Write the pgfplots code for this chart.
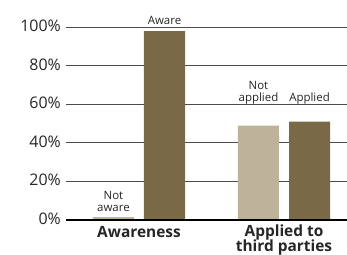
\documentclass[border=0pt]{standalone}
\usepackage{pgfplots}
\pgfplotsset{compat=1.18}
\usepackage{fontspec}
\setmainfont{Open Sans}
\definecolor{lightbar}{HTML}{BDB29A}
\definecolor{darkbar}{HTML}{7A6946}
\begin{document}
\begin{tikzpicture}
\useasboundingbox (-66bp,-35bp) rectangle (281bp,220bp);
\begin{axis}[
  at={(0,0)}, anchor=south west,
  scale only axis, width=281bp, height=192.7bp,
  xmin=-0.5034, xmax=1.4345, ymin=0, ymax=100,
  clip=false,
  axis line style={draw=none},
  xtick=\empty,
  ytick={0,20,40,60,80,100},
  yticklabels={0\%,20\%,40\%,60\%,80\%,100\%},
  major tick length=0pt,
  yticklabel style={font=\fontsize{16}{18}\selectfont, text=black!85, anchor=east, inner sep=0pt, xshift=-5bp, yshift=1.5bp},
  ymajorgrids,
  grid style={draw=black!70, line width=1.1bp},
  after end axis/.code={\draw[black, line width=2.6bp] (rel axis cs:0,0) -- (rel axis cs:1,0);},
]
\addplot[ybar, bar shift=0pt, bar width=0.283, fill=lightbar, draw=none] coordinates {(-0.176,1.5) (0.824,49)};
\addplot[ybar, bar shift=0pt, bar width=0.283, fill=darkbar, draw=none] coordinates {(0.176,98) (1.176,51)};
\begin{scope}[every node/.style={font=\fontsize{11.5}{12}\selectfont, text=black!85, anchor=base, inner sep=0pt}]
\node at (axis cs:0.176,101.3) {Aware};
\node at (axis cs:-0.176,10.4) {Not};
\node at (axis cs:-0.176,4.3) {aware};
\node at (axis cs:0.824,67.5) {Not};
\node at (axis cs:0.824,61.4) {applied};
\node at (axis cs:1.176,61.4) {Applied};
\end{scope}
\begin{scope}[every node/.style={font=\fontsize{15.5}{17}\selectfont\bfseries, text=black!85, anchor=base, inner sep=0pt}]
\node at (axis cs:0,-9.0) {Awareness};
\node at (axis cs:1,-8.7) {Applied to};
\node at (axis cs:1,-16.6) {third parties};
\end{scope}
\end{axis}
\end{tikzpicture}
\end{document}
